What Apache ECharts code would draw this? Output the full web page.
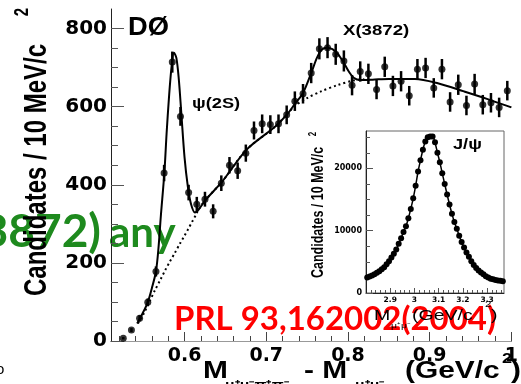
<!DOCTYPE html>
<html>
<head>
<meta charset="utf-8">
<script src="https://cdn.jsdelivr.net/npm/echarts@6/dist/echarts.min.js"></script>
<style>
  html, body { margin: 0; padding: 0; background: #fff; }
  #chart { width: 521px; height: 384px; overflow: hidden; }
</style>
</head>
<body>
<div id="chart"></div>
<script>
// M(mu+ mu- pi+ pi-) - M(mu+ mu-) spectrum, 10 MeV/c^2 bins (GeV/c^2)
const deltaM = [0.525, 0.535, 0.545, 0.555, 0.565, 0.575, 0.585, 0.595, 0.605, 0.615,
  0.625, 0.635, 0.645, 0.655, 0.665, 0.675, 0.685, 0.695, 0.705, 0.715,
  0.725, 0.735, 0.745, 0.755, 0.765, 0.775, 0.785, 0.795, 0.805, 0.815,
  0.825, 0.835, 0.845, 0.855, 0.865, 0.875, 0.885, 0.895, 0.905, 0.915,
  0.925, 0.935, 0.945, 0.955, 0.965, 0.975, 0.985, 0.995];
const candidates = [7, 28, 58, 99, 178, 430, 714, 575, 380, 350,
  363, 332, 404, 450, 436, 481, 539, 556, 554, 556,
  579, 614, 633, 686, 748, 751, 734, 717, 655, 690,
  684, 644, 702, 653, 665, 628, 696, 699, 648, 696,
  612, 656, 603, 658, 605, 610, 598, 641];
const candErr = [3, 5, 8, 10, 13, 21, 27, 24, 20, 19,
  19, 18, 20, 21, 21, 22, 23, 24, 24, 24,
  24, 25, 25, 26, 27, 27, 27, 27, 26, 26,
  26, 25, 26, 26, 26, 25, 26, 26, 25, 26,
  25, 26, 25, 26, 25, 25, 25, 25];

// full fit: psi(2S) + X(3872) peaks on top of the background
const fitMass = [0.542, 0.548, 0.555, 0.560, 0.565, 0.568, 0.571, 0.5753, 0.578, 0.581,
  0.584, 0.587, 0.590, 0.593, 0.596, 0.600, 0.604, 0.608, 0.6127, 0.617,
  0.626, 0.646, 0.676, 0.711, 0.727, 0.735, 0.745, 0.755, 0.762, 0.768,
  0.774, 0.781, 0.788, 0.795, 0.801, 0.807, 0.815, 0.830, 0.850, 0.882,
  0.910, 0.942, 0.970, 1.000];
const fitCand = [45, 68, 99, 135, 178, 235, 320, 430, 530, 625,
  700, 738, 725, 670, 585, 470, 396, 350, 329, 336,
  362, 408, 490, 549, 584, 607, 635, 686, 725, 746,
  751, 747, 734, 712, 690, 674, 668, 669, 671, 671,
  660, 639, 620, 598];

// background component of the fit (dotted)
const bkgMass = [0.543, 0.550, 0.557, 0.564, 0.570, 0.576, 0.582, 0.588, 0.594, 0.600,
  0.604, 0.610, 0.614, 0.617, 0.626, 0.646, 0.676, 0.711, 0.727, 0.735,
  0.750, 0.767, 0.787, 0.807, 0.820];
const bkgCand = [45, 70, 100, 131, 155, 180, 203, 225, 248, 270,
  285, 308, 323, 336, 362, 408, 490, 549, 584, 602,
  622, 639, 655, 667, 670];

// inset: M(mu+ mu-) around the J/psi (GeV/c^2)
const jpsiMass = [2.805, 2.815, 2.825, 2.835, 2.845, 2.855, 2.865, 2.875, 2.885, 2.895,
  2.905, 2.915, 2.925, 2.935, 2.945, 2.955, 2.965, 2.975, 2.985, 2.995,
  3.005, 3.015, 3.025, 3.035, 3.045, 3.055, 3.065, 3.075, 3.085, 3.095,
  3.105, 3.115, 3.125, 3.135, 3.145, 3.155, 3.165, 3.175, 3.185, 3.195,
  3.205, 3.215, 3.225, 3.235, 3.245, 3.255, 3.265, 3.275, 3.285, 3.295,
  3.305, 3.315, 3.325, 3.335, 3.345, 3.355, 3.365];
const jpsiCand = [2500, 2650, 2800, 3000, 3250, 3500, 3800, 4150, 4600, 5100,
  5700, 6300, 7000, 7900, 8800, 9800, 10700, 12000, 13500, 15200,
  17200, 19500, 21300, 23000, 24300, 25000, 25100, 25100, 24200, 22500,
  21000, 19200, 17500, 15800, 14200, 12700, 11400, 10300, 9200, 8200,
  7300, 6500, 5800, 5100, 4500, 4000, 3600, 3300, 3000, 2700,
  2500, 2300, 2200, 2100, 2000, 1950, 1900];

// axis ticks
const mainMajorX = [0.6, 0.7, 0.8, 0.9, 1.0];
const mainMinorX = [0.52, 0.54, 0.56, 0.58, 0.62, 0.64, 0.66, 0.68, 0.72, 0.74, 0.76, 0.78,
  0.82, 0.84, 0.86, 0.88, 0.92, 0.94, 0.96, 0.98];
const mainMajorY = [0, 200, 400, 600, 800];
const mainMinorY = [50, 100, 150, 250, 300, 350, 450, 500, 550, 650, 700, 750];
const insetMajorX = [2.9, 3, 3.1, 3.2, 3.3];
const insetMinorX = [2.82, 2.84, 2.86, 2.88, 2.92, 2.94, 2.96, 2.98, 3.02, 3.04, 3.06, 3.08,
  3.12, 3.14, 3.16, 3.18, 3.22, 3.24, 3.26, 3.28, 3.32, 3.34, 3.36];
const insetMajorY = [0, 10000, 20000];
const insetMinorY = [2500, 5000, 7500, 12500, 15000, 17500, 22500, 25000];

const ROOT_FONT = '"Liberation Sans", Arial, sans-serif';
const TICK_FONT = '"DejaVu Sans", sans-serif';
const SLIDE_FONT = 'Lato, "Open Sans", sans-serif';

const chart = echarts.init(document.getElementById('chart'), null, { renderer: 'canvas' });

function tickAxis(dim, gridIndex, min, max, values, len, color, withLabels, labelOpt, showLine) {
  return {
    type: 'value', gridIndex, min, max,
    position: dim === 'x' ? 'bottom' : 'left',
    axisLine: { show: !!showLine, onZero: false, lineStyle: { color: '#222', width: 1 } },
    axisTick: { show: true, inside: true, length: len, customValues: values, lineStyle: { color: color, width: 1 } },
    axisLabel: withLabels ? Object.assign({ show: true, customValues: values }, labelOpt) : { show: false },
    splitLine: { show: false }
  };
}

const mainLabel = { fontFamily: TICK_FONT, fontWeight: 'bold', color: '#000' };
const plainNumber = v => String(Math.round(v * 100) / 100);

const option = {
  animation: false,
  backgroundColor: '#fff',
  grid: [
    // main frame runs past the right edge of the page, so only its top line is drawn
    { left: 111, top: 9, width: 410, height: 332, show: false },
    { left: 366, top: 131, width: 138, height: 162, show: true, borderColor: '#666', borderWidth: 1, backgroundColor: '#fff', z: 5 }
  ],
  xAxis: [
    tickAxis('x', 0, 0.51, 1.0, mainMajorX, 9, '#444', true,
      Object.assign({ fontSize: 19, margin: 6, formatter: plainNumber }, mainLabel), true),
    tickAxis('x', 0, 0.51, 1.0, mainMinorX, 5, '#444', false),
    Object.assign(tickAxis('x', 1, 2.8, 3.37, insetMajorX, 5, '#555', true,
      { fontFamily: TICK_FONT, fontWeight: 'bold', fontSize: 7.5, color: '#000', margin: 3, formatter: plainNumber }, true), { z: 6 }),
    Object.assign(tickAxis('x', 1, 2.8, 3.37, insetMinorX, 3, '#555', false), { z: 6 }),
    { type: 'value', gridIndex: 0, min: 0.51, max: 1.0, position: 'top',
      axisLine: { show: true, lineStyle: { color: '#999', width: 1 } },
      axisTick: { show: false }, axisLabel: { show: false }, splitLine: { show: false } }
  ],
  yAxis: [
    tickAxis('y', 0, 0, 850, mainMajorY, 13, '#555', true,
      Object.assign({ fontSize: 20, margin: 4, formatter: plainNumber }, mainLabel), true),
    tickAxis('y', 0, 0, 850, mainMinorY, 7, '#555', false),
    Object.assign(tickAxis('y', 1, 0, 26000, insetMajorY, 7, '#555', true,
      { fontFamily: TICK_FONT, fontWeight: 'bold', fontSize: 8, color: '#000', margin: 4, formatter: plainNumber }, true), { z: 6 }),
    Object.assign(tickAxis('y', 1, 0, 26000, insetMinorY, 4, '#555', false), { z: 6 })
  ],
  graphic: [
    // slide overlays (behind the plot)
    { type: 'text', z: -10, x: 101, y: 232,
      style: { text: 'X(3872)', fill: '#1e8a1e', font: 'bold 46px ' + SLIDE_FONT, textAlign: 'right', textVerticalAlign: 'middle' } },
    { type: 'text', z: -10, x: 109, y: 233,
      style: { text: 'any', fill: '#1e8a1e', font: 'bold 42px ' + SLIDE_FONT, textAlign: 'left', textVerticalAlign: 'middle' } },
    { type: 'text', z: -10, x: 174, y: 320, scaleX: 1.03,
      style: { text: 'PRL 93,162002(2004)', fill: '#ff0000', font: 'bold 32px ' + SLIDE_FONT, textAlign: 'left', textVerticalAlign: 'middle' } },
    { type: 'text', z: -10, x: -4, y: 370,
      style: { text: 'o', fill: '#000', font: '15px ' + ROOT_FONT, textAlign: 'left', textVerticalAlign: 'middle' } },

    // main axis titles
    { type: 'text', x: 37, y: 296, rotation: Math.PI / 2, scaleY: 1.3,
      style: { text: 'Candidates / 10 MeV/c', fill: '#000', font: 'bold 24px ' + ROOT_FONT, textAlign: 'left', textVerticalAlign: 'middle' } },
    { type: 'text', x: 23, y: 12, rotation: Math.PI / 2, scaleY: 1.3,
      style: { text: '2', fill: '#000', font: 'bold 15px ' + ROOT_FONT, textAlign: 'center', textVerticalAlign: 'middle' } },
    { type: 'text', x: 203, y: 372, scaleX: 1.3,
      style: { text: 'M', fill: '#000', font: 'bold 23px ' + ROOT_FONT, textAlign: 'left', textVerticalAlign: 'middle' } },
    { type: 'text', x: 225, y: 386, scaleX: 1.3,
      style: { text: 'μ⁺μ⁻π⁺π⁻', fill: '#000', font: 'bold 12px ' + ROOT_FONT, textAlign: 'left', textVerticalAlign: 'middle' } },
    { type: 'text', x: 304, y: 372, scaleX: 1.3,
      style: { text: '- M', fill: '#000', font: 'bold 23px ' + ROOT_FONT, textAlign: 'left', textVerticalAlign: 'middle' } },
    { type: 'text', x: 355, y: 386, scaleX: 1.3,
      style: { text: 'μ⁺μ⁻', fill: '#000', font: 'bold 12px ' + ROOT_FONT, textAlign: 'left', textVerticalAlign: 'middle' } },
    { type: 'text', x: 405, y: 372, scaleX: 1.3,
      style: { text: '(GeV/c', fill: '#000', font: 'bold 23px ' + ROOT_FONT, textAlign: 'left', textVerticalAlign: 'middle' } },
    { type: 'text', x: 502, y: 359, scaleX: 1.3,
      style: { text: '2', fill: '#000', font: 'bold 14px ' + ROOT_FONT, textAlign: 'left', textVerticalAlign: 'middle' } },
    { type: 'text', x: 511, y: 372, scaleX: 1.3,
      style: { text: ')', fill: '#000', font: 'bold 23px ' + ROOT_FONT, textAlign: 'left', textVerticalAlign: 'middle' } },

    // main annotations
    { type: 'text', x: 128, y: 28, scaleX: 1.05,
      style: { text: 'DØ', fill: '#000', font: 'bold 26px ' + ROOT_FONT, textAlign: 'left', textVerticalAlign: 'middle' } },
    { type: 'text', x: 192, y: 104, scaleX: 1.3,
      style: { text: 'ψ(2S)', fill: '#000', font: 'bold 14px ' + ROOT_FONT, textAlign: 'left', textVerticalAlign: 'middle' } },
    { type: 'text', x: 343, y: 31, scaleX: 1.33,
      style: { text: 'X(3872)', fill: '#000', font: 'bold 14px ' + ROOT_FONT, textAlign: 'left', textVerticalAlign: 'middle' } },

    // inset annotations and titles
    { type: 'text', z: 20, x: 453, y: 145, scaleX: 1.3,
      style: { text: 'J/ψ', fill: '#000', font: 'bold 14px ' + ROOT_FONT, textAlign: 'left', textVerticalAlign: 'middle' } },
    { type: 'text', z: 20, x: 319, y: 278, rotation: Math.PI / 2, scaleY: 1.3,
      style: { text: 'Candidates / 10 MeV/c', fill: '#000', font: 'bold 12.5px ' + ROOT_FONT, textAlign: 'left', textVerticalAlign: 'middle' } },
    { type: 'text', z: 20, x: 313, y: 134, rotation: Math.PI / 2, scaleY: 1.3,
      style: { text: '2', fill: '#000', font: 'bold 8px ' + ROOT_FONT, textAlign: 'center', textVerticalAlign: 'middle' } },
    { type: 'text', z: 20, x: 374, y: 316, scaleX: 1.3,
      style: { text: 'M', fill: '#000', font: '15px ' + ROOT_FONT, textAlign: 'left', textVerticalAlign: 'middle' } },
    { type: 'text', z: 20, x: 391, y: 326, scaleX: 1.3,
      style: { text: 'μ⁺μ⁻', fill: '#000', font: '8px ' + ROOT_FONT, textAlign: 'left', textVerticalAlign: 'middle' } },
    { type: 'text', z: 20, x: 412, y: 316, scaleX: 1.3,
      style: { text: '(GeV/c', fill: '#000', font: '15px ' + ROOT_FONT, textAlign: 'left', textVerticalAlign: 'middle' } },
    { type: 'text', z: 20, x: 485, y: 305, scaleX: 1.3,
      style: { text: '2', fill: '#000', font: '9px ' + ROOT_FONT, textAlign: 'left', textVerticalAlign: 'middle' } },
    { type: 'text', z: 20, x: 491, y: 316, scaleX: 1.3,
      style: { text: ')', fill: '#000', font: '15px ' + ROOT_FONT, textAlign: 'left', textVerticalAlign: 'middle' } }
  ],
  series: [
    {
      name: 'background', type: 'line', xAxisIndex: 0, yAxisIndex: 0,
      data: bkgMass.map((m, i) => [m, bkgCand[i]]),
      smooth: 0.3, showSymbol: false, silent: true,
      lineStyle: { color: '#000', width: 2, type: [2, 3] }, z: 3
    },
    {
      name: 'fit', type: 'line', xAxisIndex: 0, yAxisIndex: 0,
      data: fitMass.map((m, i) => [m, fitCand[i]]),
      smooth: 0.3, showSymbol: false, silent: true,
      lineStyle: { color: '#000', width: 2 }, z: 4
    },
    {
      name: 'errors', type: 'custom', xAxisIndex: 0, yAxisIndex: 0,
      data: deltaM.map((m, i) => [m, candidates[i], candErr[i]]),
      renderItem: function (params, api) {
        const x = api.value(0), y = api.value(1), e = api.value(2);
        const hi = api.coord([x, y + e]);
        const lo = api.coord([x, y - e]);
        return { type: 'line', shape: { x1: hi[0], y1: hi[1], x2: lo[0], y2: lo[1] },
          style: { stroke: '#000', lineWidth: 2.5 } };
      },
      z: 5
    },
    {
      name: 'data', type: 'scatter', xAxisIndex: 0, yAxisIndex: 0,
      data: deltaM.map((m, i) => [m, candidates[i]]),
      symbol: 'circle', symbolSize: 7, itemStyle: { color: '#000' }, z: 6
    },
    {
      name: 'J/psi', type: 'line', xAxisIndex: 2, yAxisIndex: 2,
      data: jpsiMass.map((m, i) => [m, jpsiCand[i]]),
      smooth: 0.2, symbol: 'circle', symbolSize: 6, showSymbol: true,
      itemStyle: { color: '#000' }, lineStyle: { color: '#000', width: 1.5 }, z: 10
    }
  ]
};

chart.setOption(option);
</script>
</body>
</html>
